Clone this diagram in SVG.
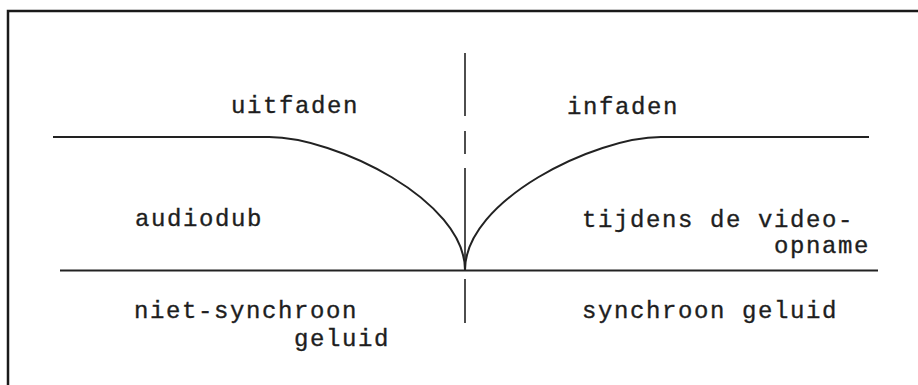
<svg xmlns="http://www.w3.org/2000/svg" width="918" height="385" viewBox="0 0 918 385">
<style>
.ln{stroke:#222;stroke-width:2;fill:none}
.dv{stroke:#222;stroke-width:1.6;fill:none}
.fr{stroke:#1a1a1a;stroke-width:2.5;fill:none}
.t{font-family:"Liberation Mono","DejaVu Sans Mono",monospace;font-size:24px;letter-spacing:1.6px;fill:#1e1e1e;stroke:#1e1e1e;stroke-width:0.35}
</style>
<rect width="918" height="385" fill="#fff"/>
<g id="frame">
<path class="fr" d="M8,385 V11 H918"/>
</g>
<g id="lines">
<path class="ln" d="M53,137 H269 C335,137 465,200 465,270"/>
<path class="ln" d="M465,270 C465,200 595,137 661,137 H869"/>
<path class="ln" d="M60,270.5 H878"/>
<path class="dv" d="M465,53 V116 M465,131 V154 M465,168 V262 M465,279 V323"/>
</g>
<g id="labels">
<text class="t" x="231" y="113">uitfaden</text>
<text class="t" x="567" y="114">infaden</text>
<text class="t" x="135" y="226">audiodub</text>
<text class="t" x="582" y="227">tijdens de video-</text>
<text class="t" x="774" y="253">opname</text>
<text class="t" x="134" y="318">niet-synchroon</text>
<text class="t" x="294" y="346">geluid</text>
<text class="t" x="582" y="318">synchroon geluid</text>
</g>
</svg>
